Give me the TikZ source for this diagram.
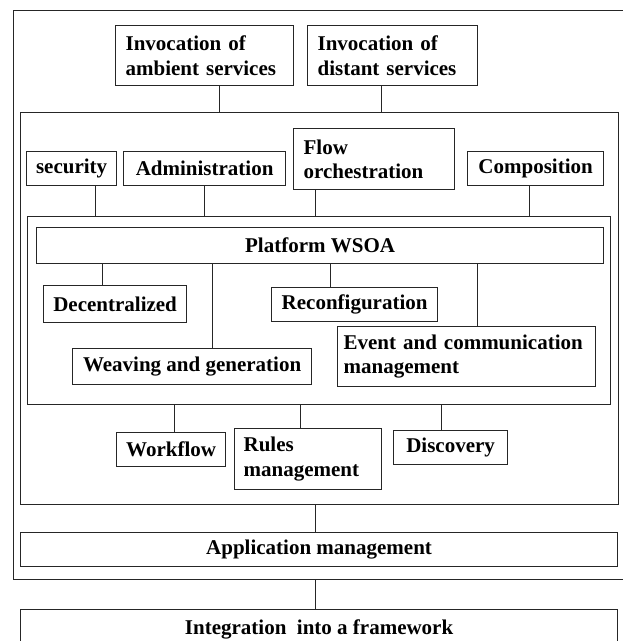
\documentclass[tikz,border=0pt]{standalone}
\usepackage{fontspec}
\setmainfont{Liberation Serif}
\tikzset{
	box/.style={draw=black!85, line width=1.2pt, inner sep=0pt, anchor=north west,
		font=\bfseries\fontsize{21}{24.5}\selectfont},
	lbox/.style={box, align=left, text width=#1, inner xsep=10pt},
	link/.style={draw=black!85, line width=1.2pt},
}
\begin{document}
\begin{tikzpicture}[x=1pt,y=-1pt]
	\path[use as bounding box, clip] (0,0) rectangle (623,641);
	% containers
	\node[box, minimum width=620, minimum height=569] (outer) at (13,10) {};
	\node[box, minimum width=598, minimum height=392] (mid) at (20,112) {};
	\node[box, minimum width=583, minimum height=188] (inner) at (27,216) {};
	% top services
	\node[lbox=158, minimum height=60] (amb) at (115,25) {Invocation of\\ambient services};
	\node[lbox=150, minimum height=60] (dist) at (307,25) {Invocation of\\distant services};
	\node[box, minimum width=90, minimum height=34] (sec) at (26,151) {security};
	\node[box, minimum width=162, minimum height=34] (adm) at (123,151) {Administration};
	\node[lbox=141, minimum height=61] (flow) at (293,128) {Flow\\orchestration};
	\node[box, minimum width=136, minimum height=34] (comp) at (467,151) {Composition};
	% platform
	\node[box, minimum width=567, minimum height=36] (plat) at (36,227) {Platform WSOA};
	\node[box, minimum width=143, minimum height=37] (dec) at (43,285) {Decentralized};
	\node[box, minimum width=166, minimum height=34] (reconf) at (271,287) {Reconfiguration};
	\node[box, minimum width=239, minimum height=36] (weave) at (72,348) {Weaving and generation};
	\node[lbox=246, inner xsep=6pt, minimum height=60] (event) at (337,326) {Event and communication\\management};
	% below platform
	\node[lbox=129, inner xsep=9pt, minimum height=61] (rules) at (234,428) {Rules\\management};
	\node[box, minimum width=109, minimum height=34] (wflow) at (116,432) {Workflow};
	\node[box, minimum width=114, minimum height=34] (disc) at (393,430) {Discovery};
	\node[box, minimum width=597, minimum height=34] (app) at (20,532) {Application management};
	\node[box, minimum width=597, minimum height=40] (integ) at (20,609) {Integration\ \ into a framework};
	% links
	\draw[link] ([xshift=14.5]amb.south) -- ([xshift=14.5]amb.south |- mid.north);
	\draw[link] ([xshift=-11]dist.south) -- ([xshift=-11]dist.south |- mid.north);
	\draw[link] ([xshift=23.5]sec.south) -- ([xshift=23.5]sec.south |- inner.north);
	\draw[link] (adm.south) -- (adm.south |- inner.north);
	\draw[link] ([xshift=-59]flow.south) -- ([xshift=-59]flow.south |- inner.north);
	\draw[link] ([xshift=-6.5]comp.south) -- ([xshift=-6.5]comp.south |- inner.north);
	\draw[link] ([xshift=-12.5]dec.north) -- ([xshift=-12.5]dec.north |- plat.south);
	\draw[link] ([xshift=20.5]weave.north) -- ([xshift=20.5]weave.north |- plat.south);
	\draw[link] ([xshift=-24]reconf.north) -- ([xshift=-24]reconf.north |- plat.south);
	\draw[link] ([xshift=11]event.north) -- ([xshift=11]event.north |- plat.south);
	\draw[link] ([xshift=3.5]wflow.north) -- ([xshift=3.5]wflow.north |- inner.south);
	\draw[link] ([xshift=-7.5]rules.north) -- ([xshift=-7.5]rules.north |- inner.south);
	\draw[link] ([xshift=-9]disc.north) -- ([xshift=-9]disc.north |- inner.south);
	\draw[link] ([xshift=-3.5]app.north) -- ([xshift=-3.5]app.north |- mid.south);
	\draw[link] ([xshift=-3.5]integ.north) -- ([xshift=-3.5]integ.north |- outer.south);
\end{tikzpicture}
\end{document}
